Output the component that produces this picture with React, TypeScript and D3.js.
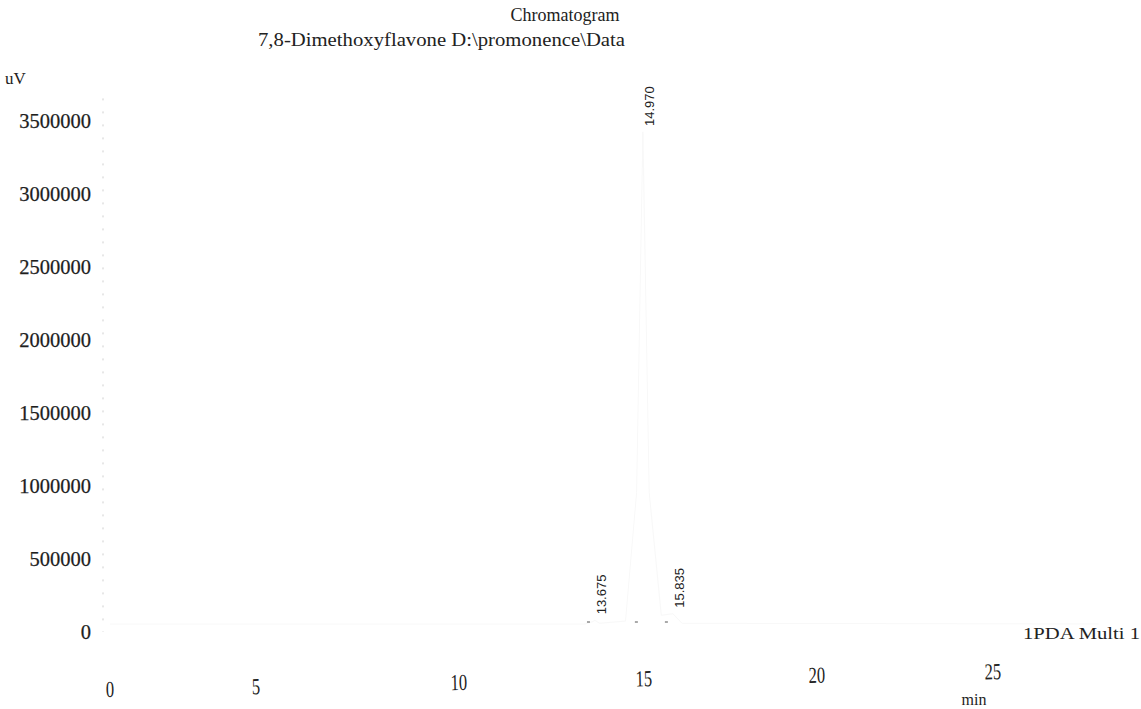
import React from "react";
import * as d3 from "d3";

const title = "Chromatogram";
const subtitle = "7,8-Dimethoxyflavone D:\\promonence\\Data";
const yUnit = "uV";
const xUnit = "min";
const channel = "1PDA Multi 1";

const yTicks = [0, 500000, 1000000, 1500000, 2000000, 2500000, 3000000, 3500000];
const xTicks = [0, 5, 10, 15, 20, 25];
// scanned axis is slightly distorted: tick positions
const xTickPixels = [110, 256, 459, 644, 817, 993];

// trace (retention time in min, signal in uV)
const traceTime = [0, 13.4, 13.6, 13.675, 13.8, 14.5, 14.8, 14.97, 15.15, 15.5, 15.835, 16.1, 28];
const traceSignal = [0, 0, 15000, 25000, 5000, 20000, 900000, 3370000, 900000, 60000, 70000, 5000, 0];

const peakTimes = [13.675, 14.97, 15.835];
const peakLabels = ["13.675", "14.970", "15.835"];
const peakHeights = [25000, 3370000, 70000];

export default function App() {
  const W = 1141;
  const H = 709;
  const x = d3.scaleLinear().domain(xTicks).range(xTickPixels);
  const y = d3.scaleLinear().domain([0, 3500000]).range([624, 113]);

  const pts = traceTime.map((t, i) => [t, traceSignal[i]] as [number, number]);
  const line = d3
    .line<[number, number]>()
    .x((d) => x(d[0]))
    .y((d) => y(d[1]));

  const serif = "'Liberation Serif', 'Times New Roman', serif";

  return (
    <svg
      width={W}
      height={H}
      style={{ position: "absolute", left: 0, top: 0, background: "#fff" }}
    >
      <rect x={0} y={0} width={W} height={H} fill="#fff" />
      <text x={565} y={21} textAnchor="middle" fontFamily={serif} fontSize={18} fill="#222">
        {title}
      </text>
      <text
        x={258}
        y={46}
        fontFamily={serif}
        fontSize={19}
        fill="#222"
        textLength={367}
        lengthAdjust="spacingAndGlyphs"
      >
        {subtitle}
      </text>
      <text x={5} y={84} fontFamily={serif} fontSize={17} fill="#222">
        {yUnit}
      </text>

      {/* y axis (faint, dashed in the scan) */}
      <line
        x1={103}
        x2={103}
        y1={y(3600000)}
        y2={y(0) + 8}
        stroke="#cfcfcf"
        strokeWidth={1}
        strokeDasharray="2 11"
      />
      {yTicks.map((v) => (
        <text
          key={v}
          x={91}
          y={y(v) + 15}
          textAnchor="end"
          fontFamily={serif}
          fontSize={20.5}
          fill="#1e1e1e"
          stroke="#1e1e1e"
          strokeWidth={0.25}
        >
          {v}
        </text>
      ))}

      {/* trace, nearly invisible in the scan */}
      <path d={line(pts) || ""} fill="none" stroke="#f8f8f8" strokeWidth={1} />

      {/* x axis labels */}
      <g transform={`rotate(-1.15, ${x(0)}, 690)`}>
        {xTicks.map((t) => (
          <text
            key={t}
            transform={`translate(${x(t)}, 697) scale(0.72, 1)`}
            textAnchor="middle"
            fontFamily={serif}
            fontSize={23}
            fill="#222"
          >
            {t}
          </text>
        ))}
      </g>
      <text x={974} y={705} textAnchor="middle" fontFamily={serif} fontSize={16} fill="#222">
        {xUnit}
      </text>
      <text
        x={1023}
        y={639}
        fontFamily={serif}
        fontSize={16.5}
        fill="#222"
        textLength={117}
        lengthAdjust="spacingAndGlyphs"
      >
        {channel}
      </text>

      {/* peak labels */}
      {peakTimes.map((t, i) => {
        const px = x(t) + 8;
        const py = y(peakHeights[i]) - 6;
        return (
          <g key={t}>
            <text
              transform={`translate(${px}, ${py}) rotate(-90)`}
              fontFamily="'Liberation Sans', Arial, sans-serif"
              fontSize={13}
              fill="#222"
              dominantBaseline="middle"
            >
              {peakLabels[i]}
            </text>
            <line
              x1={x(t) - 8}
              x2={x(t) + 2}
              y1={y(0) - 2}
              y2={y(0) - 2}
              stroke="#555"
              strokeWidth={1}
              strokeDasharray="3 8"
            />
          </g>
        );
      })}
    </svg>
  );
}
